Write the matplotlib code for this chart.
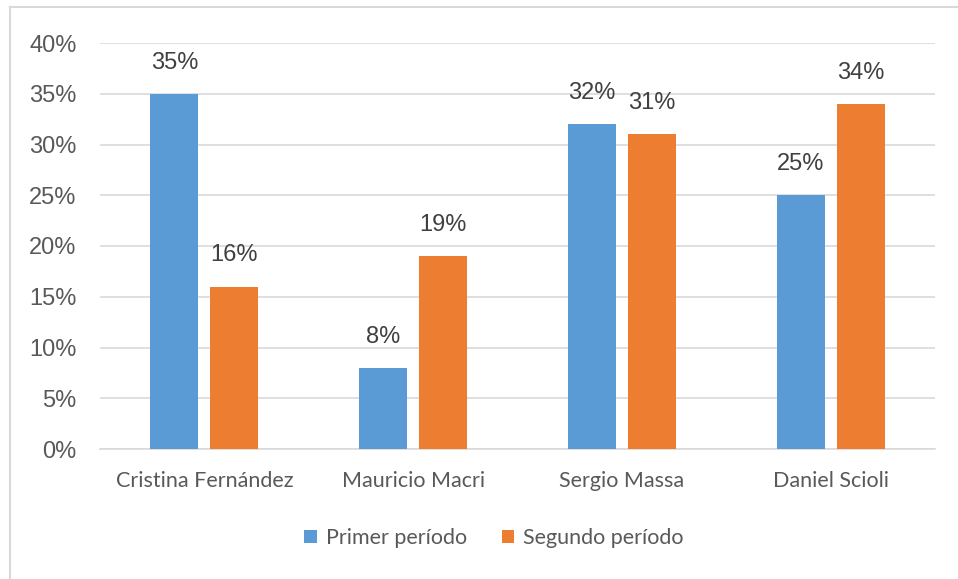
import matplotlib
matplotlib.use("Agg")
import matplotlib.pyplot as plt
from matplotlib.lines import Line2D
import numpy as np

categories = ["Cristina Fernández", "Mauricio Macri", "Sergio Massa", "Daniel Scioli"]
series_names = ["Primer período", "Segundo período"]
primer = [35, 8, 32, 25]
segundo = [16, 19, 31, 34]
yticks = [0, 5, 10, 15, 20, 25, 30, 35, 40]

blue = "#5B9BD5"
orange = "#ED7D31"

W, H = 958, 579
fig = plt.figure(figsize=(W / 100, H / 100), dpi=100)
ax = fig.add_axes([100 / W, 1 - 449 / H, 835 / W, (449 - 43) / H])

x = np.arange(len(categories))
bw = 0.23
off = 0.144
b1 = ax.bar(x - off, primer, bw, color=blue, label=series_names[0], zorder=3)
b2 = ax.bar(x + off, segundo, bw, color=orange, label=series_names[1], zorder=3)

for bars, vals in ((b1, primer), (b2, segundo)):
    for r, v in zip(bars, vals):
        ax.annotate(f"{v}%", (r.get_x() + r.get_width() / 2, v), xytext=(0, 14.5),
                    textcoords="offset points", ha="center", va="bottom",
                    fontsize=17, color="#404040", family="Liberation Sans")

ax.set_xlim(-0.5, len(categories) - 0.5)
ax.set_ylim(0, 40)
ax.set_yticks(yticks)
ax.set_yticklabels([f"{t}%" for t in yticks], fontsize=17, color="#595959",
                   family="Liberation Sans")
ax.set_xticks(x)
ax.set_xticklabels(categories, fontsize=15.5, color="#595959", family="Lato")
ax.tick_params(axis="both", length=0)
ax.tick_params(axis="y", pad=17)
ax.tick_params(axis="x", pad=16)
ax.grid(axis="y", color="#d9d9d9", linewidth=1.2, zorder=0)
for s in ["top", "right", "left"]:
    ax.spines[s].set_visible(False)
ax.spines["bottom"].set_color("#d9d9d9")
ax.spines["bottom"].set_linewidth(1.2)

leg = fig.legend(handles=[b1, b2], labels=series_names, loc="center",
                 bbox_to_anchor=(494 / W, 1 - 538 / H), ncol=2, frameon=False,
                 prop={"family": "Lato", "size": 15.5}, handlelength=0.6,
                 handleheight=0.6, handletextpad=0.4, columnspacing=1.6)
for t in leg.get_texts():
    t.set_color("#595959")

fig.add_artist(Line2D([9.5 / W, 9.5 / W], [0, 1 - 7 / H], transform=fig.transFigure,
                      color="#d9d9d9", linewidth=1.5))
fig.add_artist(Line2D([9.5 / W, 1], [1 - 7 / H, 1 - 7 / H], transform=fig.transFigure,
                      color="#d9d9d9", linewidth=1.5))

fig.savefig("out.png", dpi=100)
